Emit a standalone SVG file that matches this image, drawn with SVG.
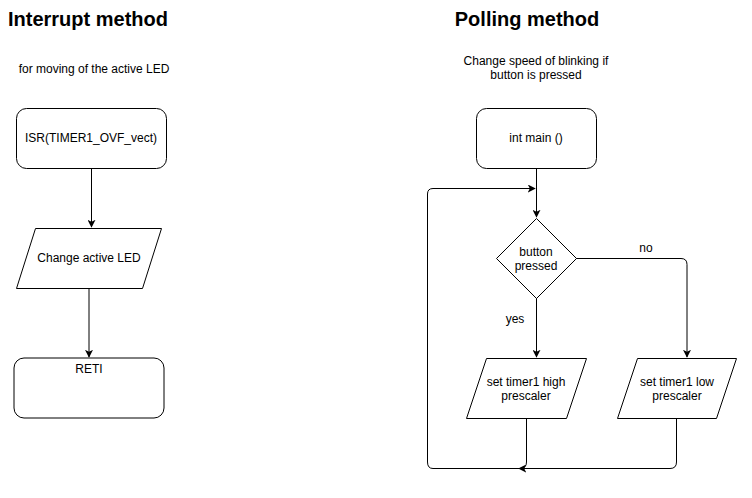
<svg xmlns="http://www.w3.org/2000/svg" width="752" height="498" viewBox="0 0 752 498">
<style>
.t{font-family:"Liberation Sans",Arial,sans-serif;font-size:12px;fill:#000;text-anchor:middle}
.h{font-family:"Liberation Sans",Arial,sans-serif;font-size:20px;font-weight:bold;fill:#000;text-anchor:middle}
.n{fill:#fff;stroke:#000;stroke-width:1}
.c{fill:none;stroke:#000;stroke-width:1}
</style>
<defs>
<marker id="a" viewBox="0 0 10 10" refX="9" refY="5" markerWidth="8" markerHeight="8" markerUnits="userSpaceOnUse" orient="auto">
<path d="M0,0 L10,5 L0,10 L2.5,5 Z" fill="#000"/>
</marker>
</defs>
<rect width="752" height="498" fill="#fff"/>
<text class="h" x="88" y="26">Interrupt method</text>
<text class="h" x="527" y="26">Polling method</text>
<text class="t" x="94" y="73">for moving of the active LED</text>
<text class="t" x="536" y="65">Change speed of blinking if</text>
<text class="t" x="536" y="79">button is pressed</text>
<g id="connectors">
<path class="c" d="M91.5,168 V227" marker-end="url(#a)"/>
<path class="c" d="M89,288 V357" marker-end="url(#a)"/>
<path class="c" d="M536.5,168 V217" marker-end="url(#a)"/>
<path class="c" d="M536.5,298 V357" marker-end="url(#a)"/>
<path class="c" d="M576,258.5 H681 Q687,258.5 687,264.5 V357" marker-end="url(#a)"/>
<path class="c" d="M526.5,418 V462 Q526.5,468.5 520,468.5 H433 Q427.5,468.5 427.5,462 V194 Q427.5,188.5 433,188.5 H535" marker-end="url(#a)"/>
<path class="c" d="M676.5,418 V462 Q676.5,468.5 670,468.5 H519" marker-end="url(#a)"/>
<text class="t" x="646" y="252">no</text>
<text class="t" x="515" y="323">yes</text>
</g>
<g id="isr">
<rect class="n" x="16.5" y="108.5" width="150" height="60" rx="10"/>
<text class="t" x="91" y="142">ISR(TIMER1_OVF_vect)</text>
</g>
<g id="change-led">
<polygon class="n" points="35.5,228.5 161.5,228.5 142.5,288.5 16.5,288.5"/>
<text class="t" x="89" y="262">Change active LED</text>
</g>
<g id="reti">
<rect class="n" x="14" y="358" width="150" height="60" rx="10"/>
<text class="t" x="89" y="373">RETI</text>
</g>
<g id="main">
<rect class="n" x="476.5" y="108.5" width="120" height="60" rx="10"/>
<text class="t" x="536" y="142">int main ()</text>
</g>
<g id="decision">
<polygon class="n" points="536.5,218.5 576.5,258.5 536.5,298.5 496.5,258.5"/>
<text class="t" x="536" y="256">button</text>
<text class="t" x="536" y="270">pressed</text>
</g>
<g id="high">
<polygon class="n" points="486.5,358.5 586.5,358.5 566.5,418.5 466.5,418.5"/>
<text class="t" x="526" y="386">set timer1 high</text>
<text class="t" x="526" y="400">prescaler</text>
</g>
<g id="low">
<polygon class="n" points="637.5,358.5 736.5,358.5 716.5,418.5 617.5,418.5"/>
<text class="t" x="677" y="386">set timer1 low</text>
<text class="t" x="677" y="400">prescaler</text>
</g>
</svg>
